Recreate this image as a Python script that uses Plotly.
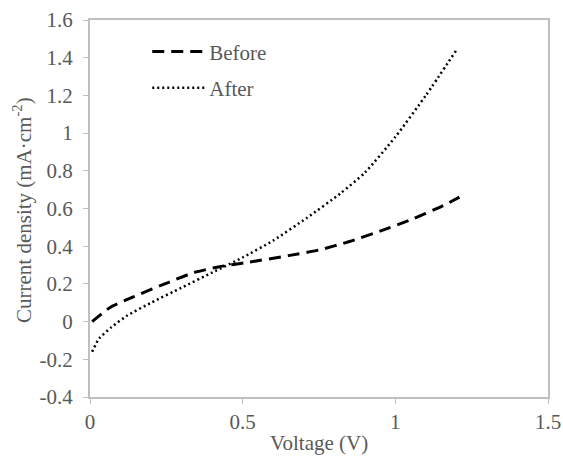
import plotly.graph_objects as go

# Data
x_before = [0.007, 0.066, 0.14, 0.26, 0.34, 0.42, 0.52, 0.65, 0.75, 0.85, 0.95, 1.05, 1.15, 1.21]
y_before = [0.0, 0.075, 0.13, 0.21, 0.26, 0.29, 0.315, 0.35, 0.38, 0.425, 0.48, 0.54, 0.61, 0.66]

x_after = [0.007, 0.03, 0.07, 0.12, 0.2, 0.3, 0.4, 0.5, 0.6, 0.71, 0.82, 0.9, 1.0, 1.1, 1.2]
y_after = [-0.16, -0.09, -0.03, 0.03, 0.1, 0.18, 0.26, 0.34, 0.43, 0.55, 0.68, 0.79, 0.98, 1.2, 1.44]

x_ticks = [0, 0.5, 1, 1.5]
y_ticks = [-0.4, -0.2, 0, 0.2, 0.4, 0.6, 0.8, 1, 1.2, 1.4, 1.6]

x_title = "Voltage (V)"
y_title = "Current density (mA·cm<sup>-2</sup>)"

FONT = "Liberation Serif"
GRAY = "#595959"
AXIS = "#bfbfbf"
FS = 21

fig = go.Figure()
fig.add_trace(go.Scatter(x=x_before, y=y_before, mode="lines", name="Before", legendgroup="b",
                         line=dict(color="black", width=3, dash="12px,7px", shape="spline", smoothing=0.6)))
fig.add_trace(go.Scatter(x=x_after, y=y_after, mode="lines", name="After", legendgroup="a",
                         line=dict(color="black", width=2.5, dash="2px,3px", shape="spline", smoothing=0.6)))

fig.update_layout(
    width=563, height=457,
    margin=dict(l=90, r=15, t=20, b=60),
    paper_bgcolor="white", plot_bgcolor="white",
    font=dict(family=FONT, size=FS, color=GRAY),
    showlegend=True,
    legend=dict(x=0.125, y=0.97, xanchor="left", yanchor="top",
                bgcolor="rgba(0,0,0,0)", font=dict(family=FONT, size=FS, color=GRAY),
                tracegroupgap=6, itemwidth=52),
    xaxis=dict(range=[0, 1.5], tickvals=x_ticks, ticktext=[str(v) for v in x_ticks],
               showgrid=False, zeroline=False, showline=True, linecolor=AXIS, linewidth=2,
               mirror=True, ticks="outside", ticklen=5, tickcolor=AXIS, tickwidth=1,
               automargin=False,
               tickfont=dict(family=FONT, size=FS, color=GRAY)),
    yaxis=dict(range=[-0.4, 1.6], tickvals=y_ticks,
               ticktext=[("%g" % v) for v in y_ticks],
               showgrid=False, zeroline=False, showline=True, linecolor=AXIS, linewidth=2,
               mirror=True, ticks="outside", ticklen=5, tickcolor=AXIS, tickwidth=1,
               automargin=False, ticklabelstandoff=6,
               tickfont=dict(family=FONT, size=FS, color=GRAY)),
    annotations=[
        dict(text=x_title, xref="paper", yref="paper", x=0.5, y=-0.158,
             xanchor="center", yanchor="bottom", showarrow=False,
             font=dict(family=FONT, size=FS, color=GRAY)),
        dict(text=y_title, xref="paper", yref="paper", x=-0.1485, y=0.496,
             xanchor="center", yanchor="middle", showarrow=False, textangle=-90,
             font=dict(family=FONT, size=FS, color=GRAY)),
    ],
)

fig.write_html("out.html", config={"displayModeBar": False},
               post_script="document.body.style.margin='0';")
